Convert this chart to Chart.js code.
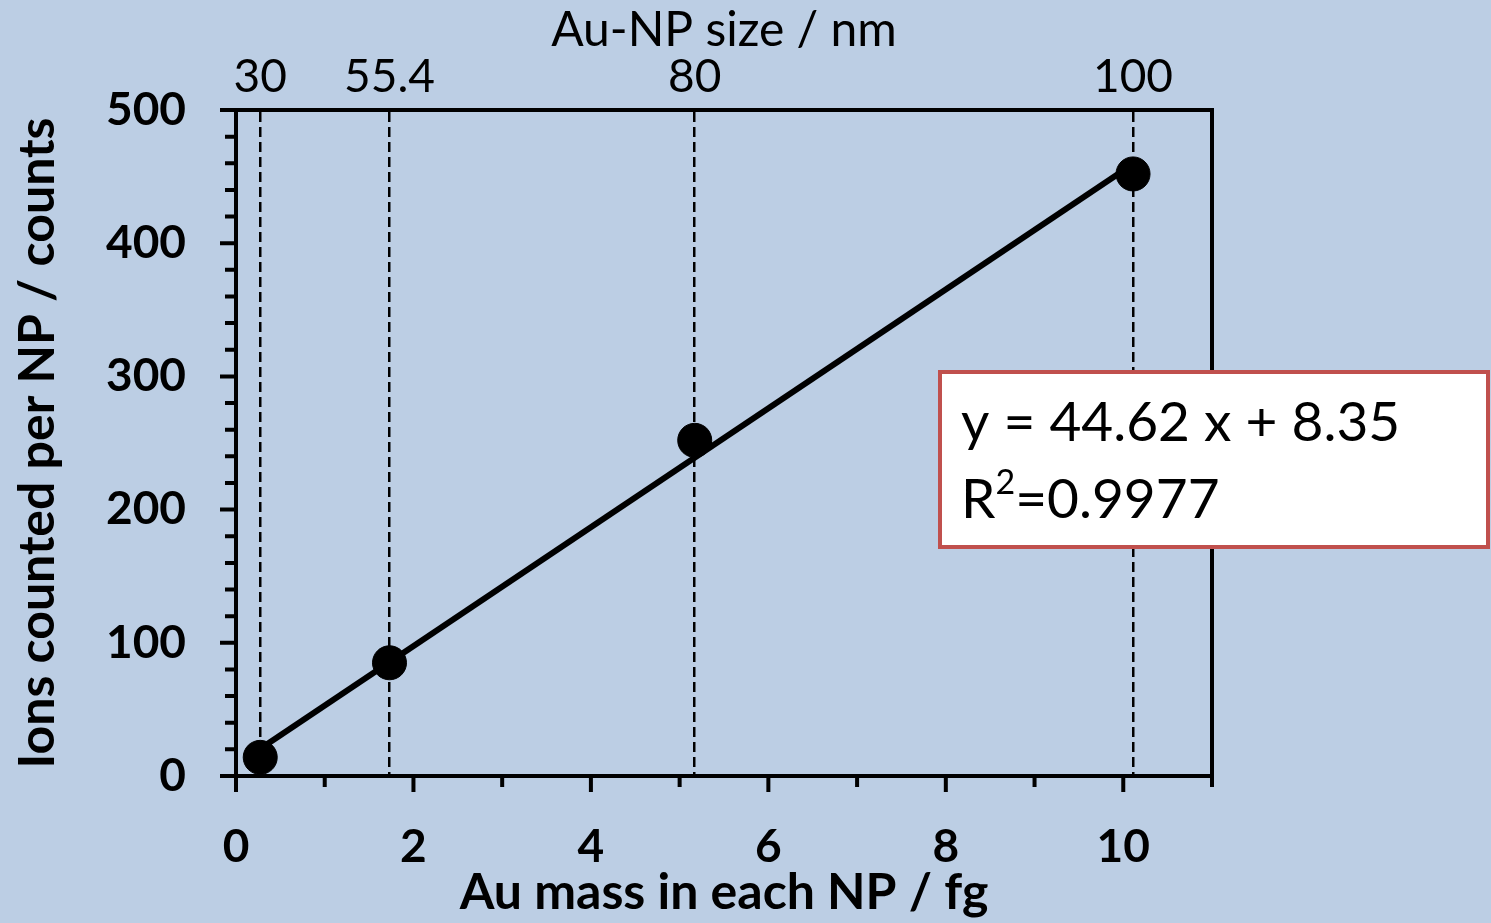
<!DOCTYPE html>
<html>
<head>
<meta charset="utf-8">
<title>Au-NP ions vs mass</title>
<script src="https://cdn.jsdelivr.net/npm/chart.js@4"></script>
<style>
  html, body { margin: 0; padding: 0; background: #bccee4; }
  canvas { display: block; }
</style>
</head>
<body>
<canvas id="chart" width="1491" height="923"></canvas>
<script>
    "use strict";

    // Data
    var auMass = [0.273, 1.73, 5.17, 10.11];          // fg per particle
    var ionsCounted = [14, 85, 252, 452];             // counts per NP
    var sizeLabels = ["30", "55.4", "80", "100"];     // top axis, nm
    var fitSlope = 44.62;
    var fitIntercept = 8.35;
    var fitR2 = "0.9977";

    var FONT = "Lato, 'Open Sans', sans-serif";

    var points = auMass.map(function (m, i) { return { x: m, y: ionsCounted[i] }; });
    var fitEnds = [auMass[0], auMass[auMass.length - 1]];
    var fitLine = fitEnds.map(function (m) { return { x: m, y: fitSlope * m + fitIntercept }; });

    // Background
    var background = {
        id: "background",
        beforeDraw: function (chart) {
            var ctx = chart.ctx;
            ctx.save();
            ctx.fillStyle = "#bccee4";
            ctx.fillRect(0, 0, chart.width, chart.height);
            ctx.restore();
        }
    };

    // Outside tick marks, long ones on labelled values
    var tickMarks = {
        id: "tickMarks",
        afterDraw: function (chart) {
            var ctx = chart.ctx, x = chart.scales.x, y = chart.scales.y;
            ctx.save();
            ctx.strokeStyle = "#000";
            ctx.lineWidth = 4;
            ctx.beginPath();
            for (var v = 0; v <= 11; v++) {
                var px = x.getPixelForValue(v);
                ctx.moveTo(px, y.bottom);
                ctx.lineTo(px, y.bottom + (v % 2 === 0 ? 16 : 11));
            }
            for (var w = 0; w <= 500; w += 20) {
                var py = y.getPixelForValue(w);
                ctx.moveTo(x.left, py);
                ctx.lineTo(x.left - (w % 100 === 0 ? 16 : 11), py);
            }
            ctx.stroke();
            ctx.restore();
        }
    };

    // Fit equation box
    var fitBox = {
        id: "fitBox",
        afterDraw: function (chart) {
            var ctx = chart.ctx;
            ctx.save();
            ctx.fillStyle = "#ffffff";
            ctx.fillRect(940, 372, 548, 175);
            ctx.strokeStyle = "#c0504d";
            ctx.lineWidth = 4;
            ctx.strokeRect(940, 372, 548, 175);
            ctx.fillStyle = "#000";
            ctx.textBaseline = "alphabetic";
            ctx.font = "55px " + FONT;
            ctx.fillText("y = " + fitSlope + " x + " + fitIntercept, 961, 441);
            ctx.fillText("R", 961, 518);
            var rw = ctx.measureText("R").width;
            ctx.font = "34px " + FONT;
            ctx.fillText("2", 961 + rw, 494);
            var sw = ctx.measureText("2").width;
            ctx.font = "55px " + FONT;
            ctx.fillText("=" + fitR2, 961 + rw + sw, 518);
            ctx.restore();
        }
    };

    var ctx = document.getElementById("chart").getContext("2d");
    var myChart = new Chart(ctx, {
        type: "scatter",
        data: {
            datasets: [{
                label: "Measured",
                data: points,
                backgroundColor: "#000",
                borderColor: "#000",
                pointRadius: 17,
                pointHoverRadius: 17,
                showLine: false,
                order: 0
            }, {
                label: "Fit",
                data: fitLine,
                borderColor: "#000",
                borderWidth: 6,
                pointRadius: 0,
                showLine: true,
                fill: false,
                order: 1
            }]
        },
        options: {
            responsive: false,
            animation: false,
            layout: { padding: 0 },
            plugins: {
                legend: { display: false },
                tooltip: { enabled: false }
            },
            scales: {
                x: {
                    type: "linear",
                    position: "bottom",
                    min: 0,
                    max: 11,
                    afterFit: function (scale) { scale.height = 147; },
                    ticks: {
                        stepSize: 1,
                        autoSkip: false,
                        maxRotation: 0,
                        padding: 44,
                        color: "#000",
                        font: { family: FONT, size: 46, weight: "bold" },
                        callback: function (v) { return v % 2 === 0 ? v : ""; }
                    },
                    grid: { drawOnChartArea: false, drawTicks: false },
                    border: { display: true, width: 4, color: "#000" },
                    title: {
                        display: true,
                        text: "Au mass in each NP / fg",
                        color: "#000",
                        padding: { top: 0, bottom: 0 },
                        font: { family: FONT, size: 50, weight: "bold" }
                    }
                },
                x2: {
                    type: "linear",
                    position: "top",
                    min: 0,
                    max: 11,
                    afterFit: function (scale) { scale.height = 110; },
                    afterBuildTicks: function (scale) {
                        scale.ticks = auMass.map(function (m) { return { value: m }; });
                    },
                    ticks: {
                        autoSkip: false,
                        maxRotation: 0,
                        padding: 5,
                        color: "#000",
                        font: { family: FONT, size: 46 },
                        callback: function (v, i) { return sizeLabels[i]; }
                    },
                    grid: { drawOnChartArea: true, drawTicks: false, color: "#000", lineWidth: 2.5 },
                    border: { display: true, width: 4, color: "#000", dash: [10, 5] },
                    title: {
                        display: true,
                        text: "Au-NP size / nm",
                        color: "#000",
                        padding: { top: 2, bottom: 0 },
                        font: { family: FONT, size: 48 }
                    }
                },
                y: {
                    type: "linear",
                    position: "left",
                    min: 0,
                    max: 500,
                    afterFit: function (scale) { scale.width = 236; },
                    ticks: {
                        stepSize: 100,
                        padding: 50,
                        color: "#000",
                        font: { family: FONT, size: 46, weight: "bold" }
                    },
                    grid: { drawOnChartArea: false, drawTicks: false },
                    border: { display: true, width: 4, color: "#000" },
                    title: {
                        display: true,
                        text: "Ions counted per NP / counts",
                        color: "#000",
                        padding: { top: 8, bottom: 0 },
                        font: { family: FONT, size: 50, weight: "bold" }
                    }
                },
                y2: {
                    type: "linear",
                    position: "right",
                    min: 0,
                    max: 500,
                    afterFit: function (scale) { scale.width = 279; },
                    ticks: { display: false },
                    grid: { drawOnChartArea: false, drawTicks: false },
                    border: { display: true, width: 4, color: "#000" }
                }
            }
        },
        plugins: [background, tickMarks, fitBox]
    });
</script>
</body>
</html>
